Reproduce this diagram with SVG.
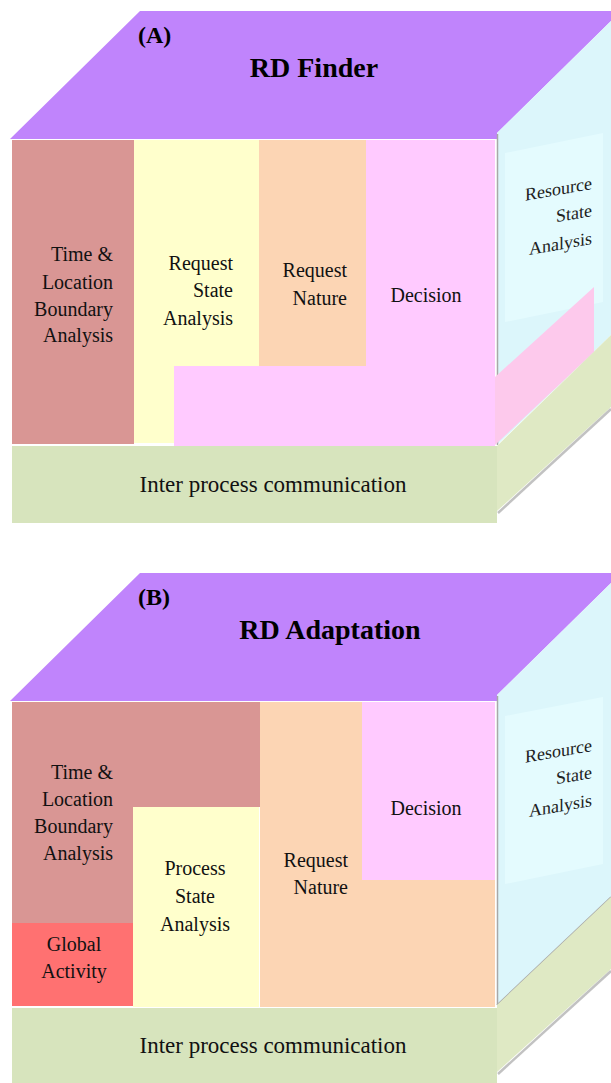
<svg xmlns="http://www.w3.org/2000/svg" width="611" height="1083" viewBox="0 0 611 1083">
<defs>
<style>
.t{font-family:"Liberation Serif","Times New Roman",serif;font-size:20px;fill:#111}
.ipc{font-family:"Liberation Serif","Times New Roman",serif;font-size:23px;fill:#111}
.rs{font-family:"Liberation Serif","Times New Roman",serif;font-size:18px;fill:#222}
.hd{font-family:"Liberation Serif","Times New Roman",serif;font-weight:bold;fill:#000}
.top{fill:#c084fc}
.rose{fill:#d99694}
.yel{fill:#ffffcc}
.peach{fill:#fcd5b4}
.pink{fill:#ffcaff}
.green{fill:#d7e4bd}
.red{fill:#ff7171}
.blue{fill:#dcf6fb}
.panel{fill:#e4fbfe}
.sgreen{fill:#dfe9c4}
.spink{fill:#fdc9ec}
.edge{stroke:#a8a8a8;stroke-width:1.5;fill:none}
.shadow{stroke:#9a9a9a;stroke-width:2.5;fill:none;opacity:0.6}
</style>
</defs>

<!-- ===== (A) RD Finder ===== -->
<g id="A-top">
<polygon class="top" points="140,11 611,11 611,21 497,133 497,139 10,139"/>
<text class="hd" x="138" y="43" font-size="24">(A)</text>
<text class="hd" x="314" y="77" font-size="28" text-anchor="middle">RD Finder</text>
</g>
<g id="A-resource">
<polygon class="blue" points="497,133 611,21 611,335 497,445"/>
<polygon class="panel" points="505,153 603,133 603,302 505,322"/>
<line class="edge" x1="497.5" y1="134" x2="497.5" y2="445"/>
<g transform="translate(592,189) skewY(-10)">
<text class="rs" text-anchor="end" x="0" y="0">Resource</text>
<text class="rs" text-anchor="end" x="0" y="27">State</text>
<text class="rs" text-anchor="end" x="0" y="55">Analysis</text>
</g>
</g>
<g id="A-time">
<rect class="rose" x="12" y="140" width="122" height="304"/>
<text class="t" text-anchor="end" x="113" y="261">Time &amp;</text>
<text class="t" text-anchor="end" x="113" y="289">Location</text>
<text class="t" text-anchor="end" x="113" y="316">Boundary</text>
<text class="t" text-anchor="end" x="113" y="342">Analysis</text>
</g>
<g id="A-reqstate">
<rect class="yel" x="134" y="140" width="125" height="303"/>
<text class="t" text-anchor="end" x="233" y="270">Request</text>
<text class="t" text-anchor="end" x="233" y="297">State</text>
<text class="t" text-anchor="end" x="233" y="325">Analysis</text>
</g>
<g id="A-reqnature">
<rect class="peach" x="259" y="140" width="107" height="226"/>
<text class="t" text-anchor="end" x="347" y="277">Request</text>
<text class="t" text-anchor="end" x="347" y="305">Nature</text>
</g>
<g id="A-decision">
<polygon class="pink" points="366,140 495,140 495,446 174,446 174,366 366,366"/>
<polygon class="spink" points="495,377 594,287 594,352 495,445"/>
<text class="t" text-anchor="middle" x="426" y="302">Decision</text>
</g>
<g id="A-ipc">
<polygon class="sgreen" points="497,446 611,335 611,407 497,511"/>
<polyline class="shadow" points="498,513 611,409"/>
<rect class="green" x="12" y="446" width="485" height="77"/>
<text class="ipc" text-anchor="middle" x="273" y="492">Inter process communication</text>
</g>

<!-- ===== (B) RD Adaptation ===== -->
<g id="B-top">
<polygon class="top" points="140,573 611,573 611,583 497,695 497,701 10,701"/>
<text class="hd" x="138" y="605" font-size="24">(B)</text>
<text class="hd" x="330" y="639" font-size="28" text-anchor="middle">RD Adaptation</text>
</g>
<g id="B-resource">
<polygon class="blue" points="497,695 611,583 611,897 497,1005"/>
<polygon class="panel" points="505,716 603,697 603,864 505,884"/>
<line class="edge" x1="497.5" y1="696" x2="497.5" y2="1005"/>
<polyline class="edge" points="497,1005 611,897"/>
<g transform="translate(592,751) skewY(-10)">
<text class="rs" text-anchor="end" x="0" y="0">Resource</text>
<text class="rs" text-anchor="end" x="0" y="27">State</text>
<text class="rs" text-anchor="end" x="0" y="55">Analysis</text>
</g>
</g>
<g id="B-time">
<polygon class="rose" points="12,702 260,702 260,807 134,807 134,1006 12,1006"/>
<text class="t" text-anchor="end" x="113" y="779">Time &amp;</text>
<text class="t" text-anchor="end" x="113" y="806">Location</text>
<text class="t" text-anchor="end" x="113" y="833">Boundary</text>
<text class="t" text-anchor="end" x="113" y="860">Analysis</text>
</g>
<g id="B-global">
<rect class="red" x="12" y="923" width="121" height="83"/>
<text class="t" text-anchor="middle" x="74" y="951">Global</text>
<text class="t" text-anchor="middle" x="74" y="978">Activity</text>
</g>
<g id="B-procstate">
<rect class="yel" x="133" y="807" width="126" height="200"/>
<text class="t" text-anchor="middle" x="195" y="875">Process</text>
<text class="t" text-anchor="middle" x="195" y="903">State</text>
<text class="t" text-anchor="middle" x="195" y="931">Analysis</text>
</g>
<g id="B-reqnature">
<rect class="peach" x="260" y="702" width="235" height="305"/>
<text class="t" text-anchor="end" x="348" y="867">Request</text>
<text class="t" text-anchor="end" x="348" y="894">Nature</text>
</g>
<g id="B-decision">
<rect class="pink" x="362" y="702" width="133" height="178"/>
<text class="t" text-anchor="middle" x="426" y="815">Decision</text>
</g>
<g id="B-ipc">
<polygon class="sgreen" points="497,1005 611,897 611,969 497,1072"/>
<polyline class="shadow" points="498,1074 611,971"/>
<rect class="green" x="12" y="1008" width="485" height="75"/>
<text class="ipc" text-anchor="middle" x="273" y="1053">Inter process communication</text>
</g>
<g id="connectors"/>
</svg>
